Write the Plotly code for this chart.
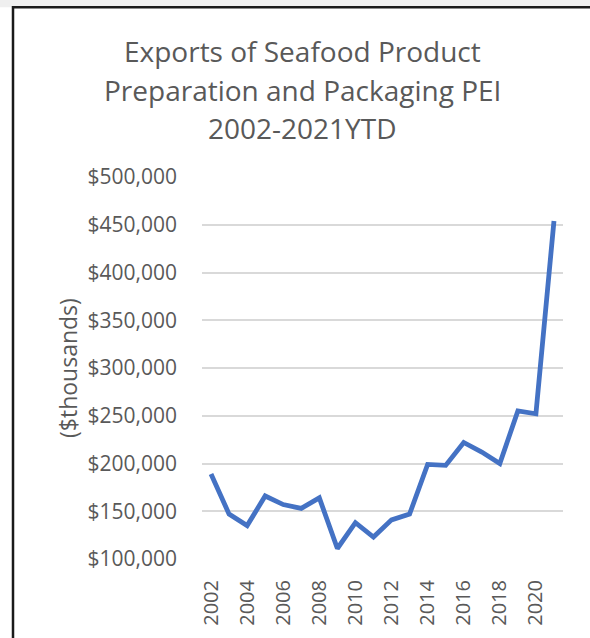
import plotly.graph_objects as go

years = list(range(2002, 2022))
exports = [189000, 147000, 135000, 166000, 157000, 153000, 164000, 111000, 138000, 123000,
           141000, 147000, 199000, 198000, 222000, 212000, 200000, 255000, 252000, 454000]
y_ticks = [100000, 150000, 200000, 250000, 300000, 350000, 400000, 450000, 500000]
x_ticks = list(range(2002, 2021, 2))
title_lines = ["Exports of Seafood Product", "Preparation and Packaging PEI", "2002-2021YTD"]

W, H = 590, 638
L, R, T, B = 202, 27, 177, 76
pw, ph = W - L - R, H - T - B

def px(x):
    return (x - L) / pw

def py(y):
    return (H - B - y) / ph

FONT = "Open Sans"
GRAY = "#595959"

fig = go.Figure()
fig.add_trace(go.Scatter(x=years, y=exports, mode="lines",
                         line=dict(color="#4472C4", width=4.8), showlegend=False))

annotations = [dict(text="($thousands)", textangle=-90, x=px(68), y=0.5, xref="paper",
                    yref="paper", showarrow=False, xanchor="center", yanchor="middle",
                    font=dict(family=FONT, size=23, color=GRAY))]
for i, line in enumerate(title_lines):
    annotations.append(dict(text=line, x=px(302), y=py(50 + 39 * i), xref="paper", yref="paper",
                            showarrow=False, xanchor="center", yanchor="middle",
                            font=dict(family=FONT, size=28, color=GRAY)))

fig.update_layout(
    width=W, height=H,
    margin=dict(l=L, r=R, t=T, b=B),
    paper_bgcolor="white", plot_bgcolor="white",
    xaxis=dict(range=[2001.5, 2021.5], tickvals=x_ticks, ticktext=[str(v) for v in x_ticks],
               tickangle=-90, showgrid=False, zeroline=False, showline=False, ticks="",
               tickfont=dict(family=FONT, size=20, color=GRAY)),
    yaxis=dict(range=[100000, 500000], tickvals=y_ticks,
               ticktext=["$" + format(v, ",") for v in y_ticks],
               showgrid=True, gridcolor="#D9D9D9", gridwidth=1.8, zeroline=False,
               showline=False, ticks="", ticklen=0,
               tickfont=dict(family=FONT, size=21, color=GRAY)),
    annotations=annotations,
    shapes=[
        dict(type="rect", xref="paper", yref="paper", x0=px(-5), x1=px(600), y0=py(6), y1=py(-5),
             fillcolor="#EFEFEF", line=dict(width=0), layer="below"),
        dict(type="rect", xref="paper", yref="paper", x0=px(13), x1=px(620), y0=py(6), y1=py(660),
             fillcolor="rgba(0,0,0,0)", line=dict(color="#1a1a1a", width=2.5)),
    ],
)
fig.update_yaxes(ticklabelstandoff=24)
fig.update_xaxes(ticklabelstandoff=16)

fig.write_html("out.html")
